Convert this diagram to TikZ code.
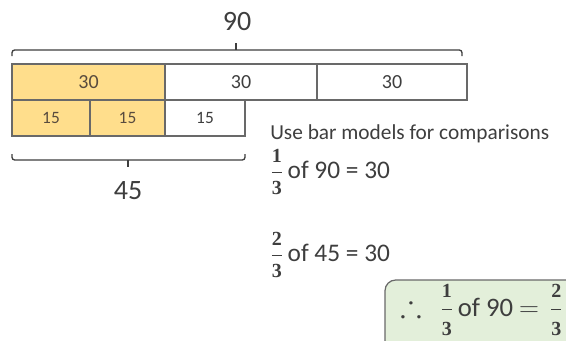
\documentclass[tikz,border=0pt]{standalone}
\usepackage{amssymb}
\usepackage{fontspec}
\setmainfont{Carlito}
\newfontfamily\fracfont{Liberation Serif}
\definecolor{baryellow}{RGB}{255,222,140}
\definecolor{boxgreen}{RGB}{227,239,218}
\definecolor{inkgray}{RGB}{62,62,62}
\definecolor{edgegray}{RGB}{105,105,105}
\newcommand{\fdigit}[1]{\hbox{\fontsize{15}{15}\fracfont\bfseries #1}}
\newcommand{\bfrac}[2]{$\displaystyle\frac{\fdigit{#1}}{\fdigit{#2}}$}

\begin{document}
\begin{tikzpicture}[
  x=0.75pt, y=-0.75pt,
  every node/.style = {text=inkgray, inner sep=0pt},
  cell/.style = {draw=edgegray, line width=0.9pt},
  brace/.style = {draw=inkgray, line width=1pt, rounded corners=2pt},
]
\clip (0,0) rectangle (566,340);

% ── Top bar: three thirds of 90 ────────────────────────────────────────────
\fill[baryellow] (12, 64) rectangle (165, 100);
\draw[cell]      (12, 64) rectangle (165, 100);
\draw[cell]      (165, 64) rectangle (317, 100);
\draw[cell]      (317, 64) rectangle (467, 100);
\node[font=\fontsize{15}{15}\selectfont, text=inkgray!80!brown] (topa) at (88.5, 82) {30};
\node[font=\fontsize{15}{15}\selectfont] (topb) at (241, 82) {30};
\node[font=\fontsize{15}{15}\selectfont] (topc) at (392, 82) {30};

% ── Bottom bar: three thirds of 45 ─────────────────────────────────────────
\fill[baryellow] (12, 100) rectangle (165, 136);
\draw[cell]      (12, 100) rectangle (90, 136);
\draw[cell]      (90, 100) rectangle (165, 136);
\draw[cell]      (165, 100) rectangle (245, 136);
\node[font=\fontsize{13}{13}\selectfont, text=inkgray!80!brown] (lowa) at (51, 118) {15};
\node[font=\fontsize{13}{13}\selectfont, text=inkgray!80!brown] (lowb) at (127.5, 118) {15};
\node[font=\fontsize{13}{13}\selectfont] (lowc) at (205, 118) {15};

% ── Braces ──────────────────────────────────────────────────────────────────
\draw[brace] (12, 56) |- (236, 50) -| (462, 56);
\draw[brace] (236, 50) -- (236, 43);
\node[font=\fontsize{21}{21}\selectfont] (whole) at (237, 22) {90};

\draw[brace] (12, 154) |- (128, 160) -| (245, 154);
\draw[brace] (128, 160) -- (128, 167);
\node[font=\fontsize{21}{21}\selectfont] (half) at (128, 191) {45};

% ── Working ─────────────────────────────────────────────────────────────────
\node[anchor=west, font=\fontsize{16}{16}\selectfont] (title) at (270, 134)
  {Use bar models for comparisons};
\node[anchor=west, font=\fontsize{19}{19}\selectfont] (first) at (270, 172)
  {\bfrac{1}{3}\,of 90 = 30};
\node[anchor=west, font=\fontsize{19}{19}\selectfont] (second) at (270, 255)
  {\bfrac{2}{3}\,of 45 = 30};

% ── Conclusion box ──────────────────────────────────────────────────────────
\draw[edgegray, fill=boxgreen, line width=0.9pt, rounded corners=8pt]
  (385, 280) rectangle (600, 370);
\node[anchor=west, font=\fontsize{20}{20}\selectfont] (result) at (400, 310)
  {{\fontsize{24}{24}\selectfont$\therefore$}\hspace{14pt}\bfrac{1}{3}\,of 90 $=$\hspace{8pt}\bfrac{2}{3}};

\end{tikzpicture}
\end{document}
